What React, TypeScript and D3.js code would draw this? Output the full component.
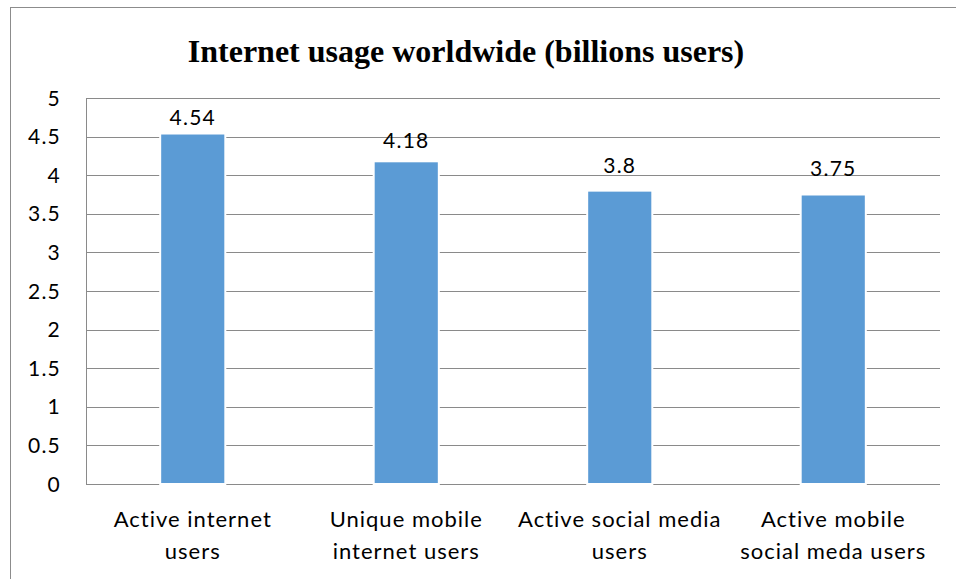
import React from 'react';
import * as d3 from 'd3';

const categories: string[][] = [
  ['Active internet', 'users'],
  ['Unique mobile', 'internet users'],
  ['Active social media', 'users'],
  ['Active mobile', 'social meda users'],
];
const values: number[] = [4.54, 4.18, 3.8, 3.75];
const yTicks: number[] = [0, 0.5, 1, 1.5, 2, 2.5, 3, 3.5, 4, 4.5, 5];
const title = 'Internet usage worldwide (billions users)';

const W = 956;
const H = 579;
const plot = { left: 86, right: 940, top: 98, bottom: 484 };
const sans = 'Lato, "Open Sans", sans-serif';

const App: React.FC = () => {
  const keys = categories.map((c) => c.join(' '));

  // band scale for the four categories
  const x = d3
    .scaleBand<string>()
    .domain(keys)
    .range([plot.left, plot.right])
    .paddingInner(0.695)
    .paddingOuter(0.3475);

  const y = d3.scaleLinear().domain([0, 5]).range([plot.bottom, plot.top]);

  // value labels sit a little above the bars
  const labelY = d3.scaleLinear().domain([0, 5]).range([418, 95]);

  return (
    <div>
      <style>{'body{margin:0}'}</style>
      <svg width={W} height={H} style={{ display: 'block', background: '#fff' }}>
        <rect x={10.5} y={7.5} width={W} height={H} fill="#fff" stroke="#8c8c8c" />

        <text
          x={466}
          y={62}
          textAnchor="middle"
          fontFamily='"Liberation Serif", "Times New Roman", serif'
          fontWeight="bold"
          fontSize={32}
          fill="#000"
        >
          {title}
        </text>

        {/* gridlines */}
        {yTicks.map((t) => (
          <line
            key={t}
            x1={plot.left}
            x2={plot.right}
            y1={Math.round(y(t)) + 0.5}
            y2={Math.round(y(t)) + 0.5}
            stroke="#8a8a8a"
            strokeWidth={1}
          />
        ))}
        <line
          x1={plot.left + 0.5}
          x2={plot.left + 0.5}
          y1={plot.top}
          y2={plot.bottom + 1}
          stroke="#8a8a8a"
        />

        {/* y tick labels */}
        {yTicks.map((t) => (
          <text
            key={'l' + t}
            x={61}
            y={y(t) + 7.5}
            textAnchor="end"
            fontFamily={sans}
            fontSize={21}
            letterSpacing={1.2}
            fill="#000"
          >
            {t}
          </text>
        ))}

        {/* bars */}
        {values.map((v, i) => (
          <rect
            key={keys[i]}
            x={x(keys[i])}
            y={y(v)}
            width={x.bandwidth()}
            height={y(0) - y(v)}
            fill="#5b9bd5"
            stroke="#fff"
            strokeWidth={2}
          />
        ))}

        {/* value labels */}
        {values.map((v, i) => (
          <text
            key={'v' + i}
            x={(x(keys[i]) as number) + x.bandwidth() / 2}
            y={labelY(v)}
            textAnchor="middle"
            fontFamily={sans}
            fontSize={21}
            letterSpacing={1.2}
            fill="#000"
          >
            {v}
          </text>
        ))}

        {/* category labels */}
        {categories.map((lines, i) =>
          lines.map((ln, j) => (
            <text
              key={'c' + i + j}
              x={(x(keys[i]) as number) + x.bandwidth() / 2}
              y={527 + j * 32}
              textAnchor="middle"
              fontFamily={sans}
              fontSize={22}
              letterSpacing={1}
              fill="#000"
            >
              {ln}
            </text>
          ))
        )}
      </svg>
    </div>
  );
};

export default App;
